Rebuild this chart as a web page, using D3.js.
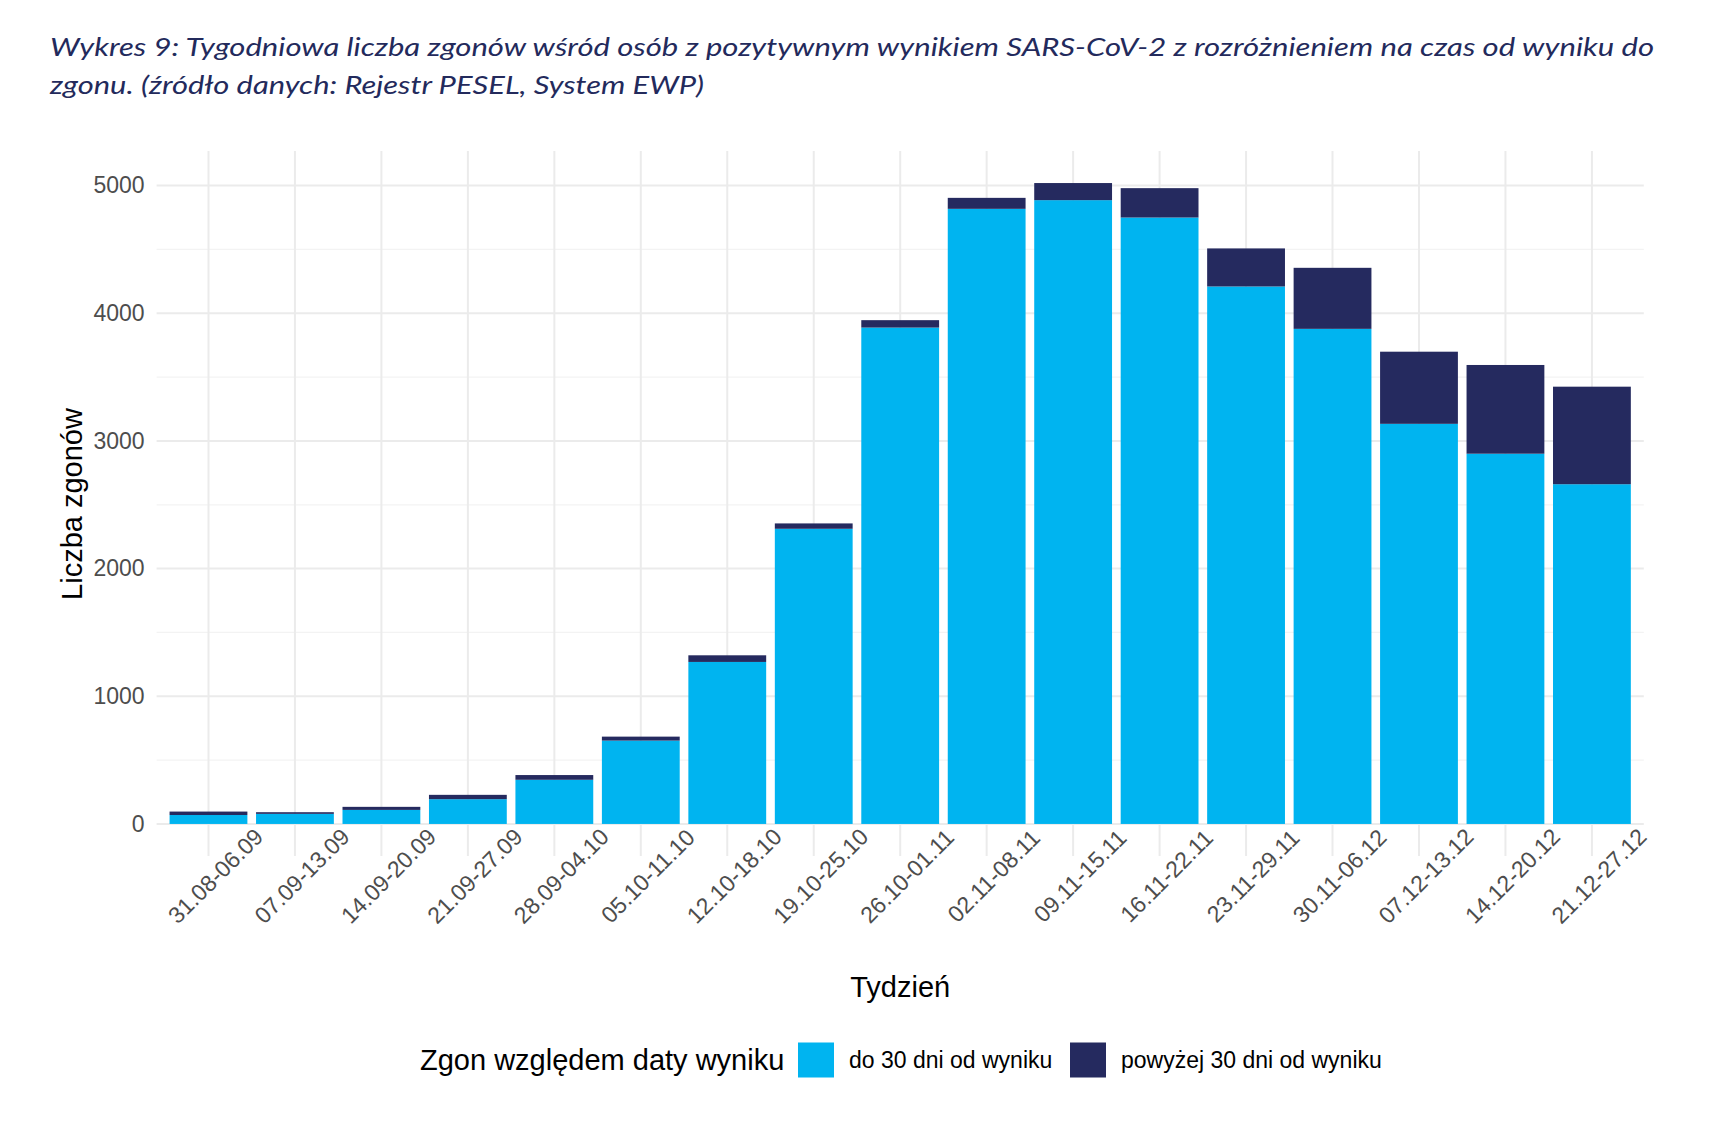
<!DOCTYPE html>
<html>
<head>
<meta charset="utf-8">
<script src="https://cdn.jsdelivr.net/npm/d3@7/dist/d3.min.js"></script>
<style>
  html, body { margin: 0; padding: 0; background: #ffffff; }
  svg { display: block; }
</style>
</head>
<body>
<svg id="chart" width="1712" height="1126"></svg>
<script>
// ---- data ----
const weeks = ["31.08-06.09","07.09-13.09","14.09-20.09","21.09-27.09","28.09-04.10","05.10-11.10","12.10-18.10","19.10-25.10","26.10-01.11","02.11-08.11","09.11-15.11","16.11-22.11","23.11-29.11","30.11-06.12","07.12-13.12","14.12-20.12","21.12-27.12"];
const within30 = [70, 79, 110, 194, 346, 653, 1269, 2312, 3888, 4818, 4886, 4750, 4210, 3878, 3134, 2900, 2661];
const over30   = [27, 13, 24, 34, 37, 31, 52, 42, 58, 86, 134, 230, 298, 478, 565, 695, 764];
const seriesKeys = ["do 30 dni od wyniku", "powyżej 30 dni od wyniku"];
const seriesColors = ["#00B4F0", "#252A5F"];
const yTicks = [0, 1000, 2000, 3000, 4000, 5000];
const yMinorTicks = [500, 1500, 2500, 3500, 4500];
const titleLines = [
  "Wykres 9: Tygodniowa liczba zgonów wśród osób z pozytywnym wynikiem SARS-CoV-2 z rozróżnieniem na czas od wyniku do",
  "zgonu. (źródło danych: Rejestr PESEL, System EWP)"
];
const xTitle = "Tydzień";
const yTitle = "Liczba zgonów";
const legendTitle = "Zgon względem daty wyniku";

// ---- build ----
const rows = weeks.map((w, i) => ({ week: w, [seriesKeys[0]]: within30[i], [seriesKeys[1]]: over30[i] }));
const stacked = d3.stack().keys(seriesKeys)(rows);

const svg = d3.select("#chart");
const panel = { left: 156.6, right: 1643.8, top: 151, bottom: 856 };

const x = d3.scaleBand().domain(weeks).range([panel.left, panel.right]).paddingInner(0.1).paddingOuter(0.15);
const yMax = d3.max(rows, d => d[seriesKeys[0]] + d[seriesKeys[1]]);
const pad = yMax * 0.05;
const y = d3.scaleLinear().domain([-pad, yMax + pad]).range([panel.bottom, panel.top]);

const sans = "'Liberation Sans', Arial, sans-serif";
const tickSize = 23;
const titleSize = 29;

// grid
const grid = svg.append("g");
grid.selectAll("line.minor").data(yMinorTicks).enter().append("line")
  .attr("x1", panel.left).attr("x2", panel.right)
  .attr("y1", d => y(d)).attr("y2", d => y(d))
  .attr("stroke", "#f3f3f3").attr("stroke-width", 1.2);
grid.selectAll("line.major").data(yTicks).enter().append("line")
  .attr("x1", panel.left).attr("x2", panel.right)
  .attr("y1", d => y(d)).attr("y2", d => y(d))
  .attr("stroke", "#ebebeb").attr("stroke-width", 2);
grid.selectAll("line.vx").data(weeks).enter().append("line")
  .attr("x1", d => x(d) + x.bandwidth() / 2).attr("x2", d => x(d) + x.bandwidth() / 2)
  .attr("y1", panel.top).attr("y2", panel.bottom)
  .attr("stroke", "#ebebeb").attr("stroke-width", 2);

// bars
svg.append("g").selectAll("g").data(stacked).enter().append("g")
  .attr("fill", (d, i) => seriesColors[i])
  .selectAll("rect").data(d => d).enter().append("rect")
  .attr("x", d => x(d.data.week))
  .attr("width", x.bandwidth())
  .attr("y", d => y(d[1]))
  .attr("height", d => y(d[0]) - y(d[1]));

// y axis (ticks only, no line)
const yAxis = svg.append("g").attr("transform", `translate(${panel.left},0)`)
  .call(d3.axisLeft(y).tickValues(yTicks).tickSize(0).tickPadding(12).tickFormat(d3.format("d")));
yAxis.select(".domain").remove();
yAxis.selectAll("text").attr("font-family", sans).attr("font-size", tickSize).attr("fill", "#4d4d4d");

// x axis labels
const xAxis = svg.append("g").attr("transform", `translate(0,${panel.bottom})`)
  .call(d3.axisBottom(x).tickSize(0).tickPadding(0));
xAxis.select(".domain").remove();
xAxis.selectAll(".tick text")
  .attr("font-family", sans).attr("font-size", tickSize).attr("fill", "#4d4d4d")
  .attr("text-anchor", "middle").attr("dy", null).attr("y", 0)
  .attr("dominant-baseline", "central")
  .attr("transform", "translate(7,20) rotate(-45)");

// axis titles
svg.append("text").text(xTitle)
  .attr("x", (panel.left + panel.right) / 2).attr("y", 997)
  .attr("text-anchor", "middle").attr("font-family", sans).attr("font-size", titleSize).attr("fill", "#000");
svg.append("text").text(yTitle)
  .attr("transform", `translate(82,504) rotate(-90)`)
  .attr("text-anchor", "middle").attr("font-family", sans).attr("font-size", titleSize).attr("fill", "#000");

// title
const titleG = svg.append("g");
const titleWidths = [1604, 654];
titleLines.forEach((t, i) => {
  titleG.append("text").text(t)
    .attr("x", 50).attr("y", 56 + i * 38)
    .attr("font-family", "Lato, 'Open Sans', sans-serif").attr("font-style", "italic")
    .attr("font-size", 26).attr("fill", "#232A5C")
    .attr("textLength", titleWidths[i]).attr("lengthAdjust", "spacingAndGlyphs");
});

// legend
const lg = svg.append("g");
const legY = 1060;
lg.append("text").text(legendTitle).attr("x", 420).attr("y", legY)
  .attr("dominant-baseline", "central").attr("font-family", sans).attr("font-size", titleSize).attr("fill", "#000");
const keyX = [798, 1070];
seriesKeys.forEach((k, i) => {
  lg.append("rect").attr("x", keyX[i]).attr("y", legY - 17.5).attr("width", 36).attr("height", 35)
    .attr("fill", seriesColors[i]);
  lg.append("text").text(k).attr("x", keyX[i] + 51).attr("y", legY)
    .attr("dominant-baseline", "central").attr("font-family", sans).attr("font-size", tickSize).attr("fill", "#000");
});
</script>
</body>
</html>
